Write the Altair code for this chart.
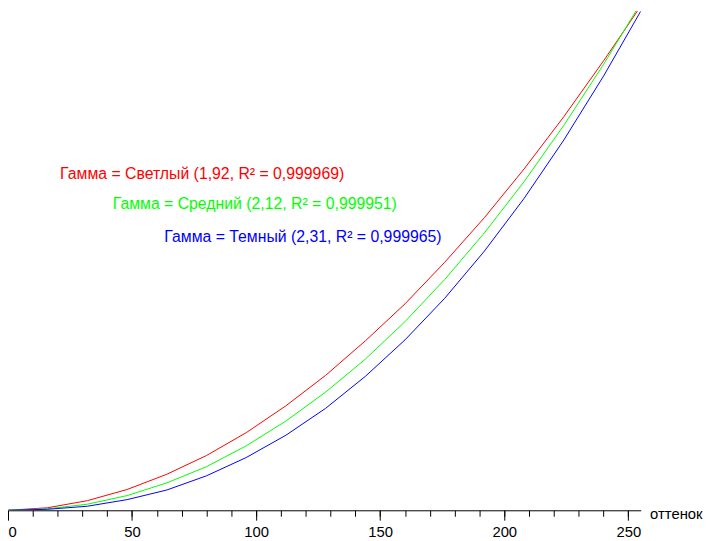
import altair as alt
import pandas as pd

# tone values (x) and measured brightness, % of maximum (y)
tones = [0, 16, 32, 48, 64, 80, 96, 112, 128, 144, 160, 176, 192, 208, 224, 240, 255]
light = [0, 0.5, 1.9, 4.1, 7.1, 10.8, 15.3, 20.6, 26.6, 33.4, 40.7, 48.9, 57.7, 67.3, 77.6, 88.6, 99.4]
medium = [0, 0.3, 1.2, 2.9, 5.4, 8.6, 12.7, 17.6, 23.3, 29.8, 37.2, 45.5, 54.7, 64.8, 75.9, 87.9, 100.0]
dark = [0, 0.2, 0.8, 2.1, 4.0, 6.8, 10.4, 14.8, 20.1, 26.4, 33.6, 41.8, 51.1, 61.5, 73.0, 85.6, 98.4]

series_names = ["Светлый", "Средний", "Темный"]
gammas = ["1,92", "2,12", "2,31"]
r_squared = ["0,999969", "0,999951", "0,999965"]
colors = ["#ff0000", "#00ff00", "#0000ff"]

# annotation anchors in data units (tone, %)
label_x = [21.0, 42.2, 63.0]
label_y = [65.4, 59.4, 52.9]

major_ticks = [0, 50, 100, 150, 200, 250]
minor_ticks = list(range(0, 256, 10))

rows = []
for name, vals in zip(series_names, [light, medium, dark]):
    for t, v in zip(tones, vals):
        rows.append({"tone": t, "value": v, "series": name})
df = pd.DataFrame(rows)

labels = pd.DataFrame({
    "series": series_names,
    "x": label_x,
    "y": label_y,
    "text": [f"Гамма = {n} ({g}, R² = {r})" for n, g, r in zip(series_names, gammas, r_squared)],
})

xscale = alt.Scale(domain=[0, 255], nice=False, zero=False)
yscale = alt.Scale(domain=[0, 98.44], nice=False, zero=False)
cscale = alt.Scale(domain=series_names, range=colors)

lines = alt.Chart(df).mark_line(strokeWidth=1, clip=True).encode(
    x=alt.X("tone:Q", scale=xscale,
            axis=alt.Axis(values=major_ticks, tickSize=10, labelPadding=5,
                          labelFontSize=15, labelFont="Liberation Sans",
                          labelColor="black", tickColor="black", domainColor="black",
                          labelFlush=False, labelOverlap=False, grid=False,
                          labelAlign={"condition": {"test": "datum.value == 0", "value": "left"},
                                      "value": "center"},
                          title="оттенок", titleFont="Liberation Sans", titleFontSize=15,
                          titleFontWeight="normal", titleColor="black",
                          titleAnchor="start", titleAlign="left", titleBaseline="middle",
                          titleX=649, titleY=3, orient="bottom")),
    y=alt.Y("value:Q", scale=yscale, axis=None),
    color=alt.Color("series:N", scale=cscale, legend=None),
    detail="series:N",
)

texts = alt.Chart(labels).mark_text(
    align="left", baseline="alphabetic", fontSize=16, font="Liberation Sans"
).encode(
    x=alt.X("x:Q", scale=xscale,
            axis=alt.Axis(values=minor_ticks, tickSize=6, labels=False, domain=False,
                          grid=False, title=None, tickColor="black", orient="bottom")),
    y=alt.Y("y:Q", scale=yscale, axis=None),
    color=alt.Color("series:N", scale=cscale, legend=None),
    text="text:N",
)

chart = alt.layer(lines, texts).resolve_axis(x="independent").properties(
    width=640,
    height=505,
    background="white",
    autosize=alt.AutoSizeParams(type="none"),
    padding={"left": 0, "top": 0, "right": 64, "bottom": 28},
).configure_view(stroke=None)

chart.save("out.html", embed_options={"renderer": "svg", "actions": False})
